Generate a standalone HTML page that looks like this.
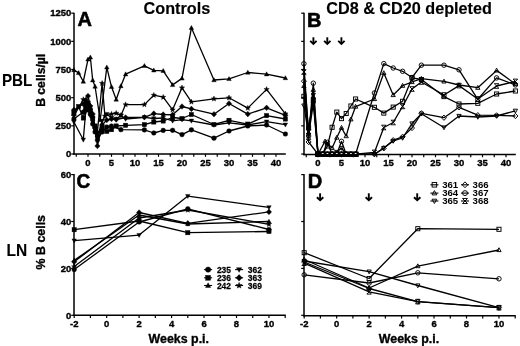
<!DOCTYPE html>
<html><head><meta charset="utf-8"><style>
html,body{margin:0;padding:0;background:#fff;width:520px;height:346px;overflow:hidden}
svg{display:block;filter:grayscale(100%) blur(0.35px)}
</style></head><body>
<svg width="520" height="346" viewBox="0 0 520 346" font-family='"Liberation Sans", sans-serif' font-weight="bold"><style>text{stroke:#000;stroke-width:0.35px;stroke-linejoin:round} .big{stroke-width:0.6px}</style>
<rect width="520" height="346" fill="#fff"/>
<text x="143.6" y="13.6" font-size="16.2" style="stroke-width:0.15px">Controls</text>
<text x="326.3" y="13.6" font-size="16.2" style="stroke-width:0.15px">CD8 &amp; CD20 depleted</text>
<text x="77.5" y="25.8" font-size="20" class="big">A</text>
<text x="306.9" y="26.7" font-size="20" class="big">B</text>
<text transform="translate(76.5,187.6) scale(0.95,1)" font-size="20" class="big">C</text>
<text x="307.8" y="187.6" font-size="20" class="big">D</text>
<text transform="translate(1.95,85.6) scale(0.98,1.065)" font-size="15.5" style="stroke-width:0.1px">PBL</text>
<text transform="translate(6.6,255.5) scale(1.0,1.07)" font-size="15.5" style="stroke-width:0.1px">LN</text>
<text transform="translate(45.4,80.3) rotate(-90)" text-anchor="middle" font-size="12.2">B cells/µl</text>
<text transform="translate(45.2,242.2) rotate(-90)" text-anchor="middle" font-size="12.4">% B cells</text>
<text x="148.6" y="342.5" font-size="12.4">Weeks p.i.</text>
<text x="378.8" y="342.5" font-size="12.4">Weeks p.i.</text>
<line x1="74.0" y1="12.7" x2="74.0" y2="154.75" stroke="#000" stroke-width="1.5"/>
<line x1="73.25" y1="154.0" x2="285.8" y2="154.0" stroke="#000" stroke-width="1.5"/>
<line x1="71.2" y1="154.0" x2="74.0" y2="154.0" stroke="#000" stroke-width="1.2"/>
<line x1="71.2" y1="125.84" x2="74.0" y2="125.84" stroke="#000" stroke-width="1.2"/>
<line x1="71.2" y1="97.68" x2="74.0" y2="97.68" stroke="#000" stroke-width="1.2"/>
<line x1="71.2" y1="69.52" x2="74.0" y2="69.52" stroke="#000" stroke-width="1.2"/>
<line x1="71.2" y1="41.36" x2="74.0" y2="41.36" stroke="#000" stroke-width="1.2"/>
<line x1="71.2" y1="13.199999999999989" x2="74.0" y2="13.199999999999989" stroke="#000" stroke-width="1.2"/>
<line x1="76.25" y1="154.0" x2="76.25" y2="156.8" stroke="#000" stroke-width="1.2"/>
<line x1="88.0" y1="154.0" x2="88.0" y2="156.8" stroke="#000" stroke-width="1.2"/>
<line x1="99.75" y1="154.0" x2="99.75" y2="156.8" stroke="#000" stroke-width="1.2"/>
<line x1="111.5" y1="154.0" x2="111.5" y2="156.8" stroke="#000" stroke-width="1.2"/>
<line x1="123.25" y1="154.0" x2="123.25" y2="156.8" stroke="#000" stroke-width="1.2"/>
<line x1="135.0" y1="154.0" x2="135.0" y2="156.8" stroke="#000" stroke-width="1.2"/>
<line x1="146.75" y1="154.0" x2="146.75" y2="156.8" stroke="#000" stroke-width="1.2"/>
<line x1="158.5" y1="154.0" x2="158.5" y2="156.8" stroke="#000" stroke-width="1.2"/>
<line x1="170.25" y1="154.0" x2="170.25" y2="156.8" stroke="#000" stroke-width="1.2"/>
<line x1="182.0" y1="154.0" x2="182.0" y2="156.8" stroke="#000" stroke-width="1.2"/>
<line x1="193.75" y1="154.0" x2="193.75" y2="156.8" stroke="#000" stroke-width="1.2"/>
<line x1="205.5" y1="154.0" x2="205.5" y2="156.8" stroke="#000" stroke-width="1.2"/>
<line x1="217.25" y1="154.0" x2="217.25" y2="156.8" stroke="#000" stroke-width="1.2"/>
<line x1="229.0" y1="154.0" x2="229.0" y2="156.8" stroke="#000" stroke-width="1.2"/>
<line x1="240.75" y1="154.0" x2="240.75" y2="156.8" stroke="#000" stroke-width="1.2"/>
<line x1="252.5" y1="154.0" x2="252.5" y2="156.8" stroke="#000" stroke-width="1.2"/>
<line x1="264.25" y1="154.0" x2="264.25" y2="156.8" stroke="#000" stroke-width="1.2"/>
<line x1="276.0" y1="154.0" x2="276.0" y2="156.8" stroke="#000" stroke-width="1.2"/>
<text transform="translate(71.30,157.25) scale(1,1.05)" text-anchor="end" font-size="9.5">0</text>
<text transform="translate(71.30,129.09) scale(1,1.05)" text-anchor="end" font-size="9.5">250</text>
<text transform="translate(71.30,100.93) scale(1,1.05)" text-anchor="end" font-size="9.5">500</text>
<text transform="translate(71.30,72.77) scale(1,1.05)" text-anchor="end" font-size="9.5">750</text>
<text transform="translate(71.30,44.61) scale(1,1.05)" text-anchor="end" font-size="9.5">1000</text>
<text transform="translate(71.30,16.45) scale(1,1.05)" text-anchor="end" font-size="9.5">1250</text>
<text transform="translate(88.00,165.60) scale(1,1.05)" text-anchor="middle" font-size="9.5">0</text>
<text transform="translate(111.50,165.60) scale(1,1.05)" text-anchor="middle" font-size="9.5">5</text>
<text transform="translate(135.00,165.60) scale(1,1.05)" text-anchor="middle" font-size="9.5">10</text>
<text transform="translate(158.50,165.60) scale(1,1.05)" text-anchor="middle" font-size="9.5">15</text>
<text transform="translate(182.00,165.60) scale(1,1.05)" text-anchor="middle" font-size="9.5">20</text>
<text transform="translate(205.50,165.60) scale(1,1.05)" text-anchor="middle" font-size="9.5">25</text>
<text transform="translate(229.00,165.60) scale(1,1.05)" text-anchor="middle" font-size="9.5">30</text>
<text transform="translate(252.50,165.60) scale(1,1.05)" text-anchor="middle" font-size="9.5">35</text>
<text transform="translate(276.00,165.60) scale(1,1.05)" text-anchor="middle" font-size="9.5">40</text>
<line x1="304.0" y1="12.7" x2="304.0" y2="155.2" stroke="#000" stroke-width="1.5"/>
<line x1="303.25" y1="154.45" x2="515.8" y2="154.45" stroke="#000" stroke-width="1.5"/>
<line x1="301.2" y1="154.0" x2="304.0" y2="154.0" stroke="#000" stroke-width="1.2"/>
<line x1="301.2" y1="125.84" x2="304.0" y2="125.84" stroke="#000" stroke-width="1.2"/>
<line x1="301.2" y1="97.68" x2="304.0" y2="97.68" stroke="#000" stroke-width="1.2"/>
<line x1="301.2" y1="69.52" x2="304.0" y2="69.52" stroke="#000" stroke-width="1.2"/>
<line x1="301.2" y1="41.36" x2="304.0" y2="41.36" stroke="#000" stroke-width="1.2"/>
<line x1="301.2" y1="13.199999999999989" x2="304.0" y2="13.199999999999989" stroke="#000" stroke-width="1.2"/>
<line x1="306.25" y1="154.45" x2="306.25" y2="157.25" stroke="#000" stroke-width="1.2"/>
<line x1="318.0" y1="154.45" x2="318.0" y2="157.25" stroke="#000" stroke-width="1.2"/>
<line x1="329.75" y1="154.45" x2="329.75" y2="157.25" stroke="#000" stroke-width="1.2"/>
<line x1="341.5" y1="154.45" x2="341.5" y2="157.25" stroke="#000" stroke-width="1.2"/>
<line x1="353.25" y1="154.45" x2="353.25" y2="157.25" stroke="#000" stroke-width="1.2"/>
<line x1="365.0" y1="154.45" x2="365.0" y2="157.25" stroke="#000" stroke-width="1.2"/>
<line x1="376.75" y1="154.45" x2="376.75" y2="157.25" stroke="#000" stroke-width="1.2"/>
<line x1="388.5" y1="154.45" x2="388.5" y2="157.25" stroke="#000" stroke-width="1.2"/>
<line x1="400.25" y1="154.45" x2="400.25" y2="157.25" stroke="#000" stroke-width="1.2"/>
<line x1="412.0" y1="154.45" x2="412.0" y2="157.25" stroke="#000" stroke-width="1.2"/>
<line x1="423.75" y1="154.45" x2="423.75" y2="157.25" stroke="#000" stroke-width="1.2"/>
<line x1="435.5" y1="154.45" x2="435.5" y2="157.25" stroke="#000" stroke-width="1.2"/>
<line x1="447.25" y1="154.45" x2="447.25" y2="157.25" stroke="#000" stroke-width="1.2"/>
<line x1="459.0" y1="154.45" x2="459.0" y2="157.25" stroke="#000" stroke-width="1.2"/>
<line x1="470.75" y1="154.45" x2="470.75" y2="157.25" stroke="#000" stroke-width="1.2"/>
<line x1="482.5" y1="154.45" x2="482.5" y2="157.25" stroke="#000" stroke-width="1.2"/>
<line x1="494.25" y1="154.45" x2="494.25" y2="157.25" stroke="#000" stroke-width="1.2"/>
<line x1="506.0" y1="154.45" x2="506.0" y2="157.25" stroke="#000" stroke-width="1.2"/>
<text transform="translate(318.00,165.82) scale(1,1.05)" text-anchor="middle" font-size="9.5">0</text>
<text transform="translate(341.50,165.82) scale(1,1.05)" text-anchor="middle" font-size="9.5">5</text>
<text transform="translate(365.00,165.82) scale(1,1.05)" text-anchor="middle" font-size="9.5">10</text>
<text transform="translate(388.50,165.82) scale(1,1.05)" text-anchor="middle" font-size="9.5">15</text>
<text transform="translate(412.00,165.82) scale(1,1.05)" text-anchor="middle" font-size="9.5">20</text>
<text transform="translate(435.50,165.82) scale(1,1.05)" text-anchor="middle" font-size="9.5">25</text>
<text transform="translate(459.00,165.82) scale(1,1.05)" text-anchor="middle" font-size="9.5">30</text>
<text transform="translate(482.50,165.82) scale(1,1.05)" text-anchor="middle" font-size="9.5">35</text>
<text transform="translate(506.00,165.82) scale(1,1.05)" text-anchor="middle" font-size="9.5">40</text>
<line x1="74.0" y1="174.1" x2="74.0" y2="316.05" stroke="#000" stroke-width="1.5"/>
<line x1="73.25" y1="315.3" x2="285.8" y2="315.3" stroke="#000" stroke-width="1.5"/>
<line x1="71.2" y1="315.3" x2="74.0" y2="315.3" stroke="#000" stroke-width="1.2"/>
<line x1="71.2" y1="268.4" x2="74.0" y2="268.4" stroke="#000" stroke-width="1.2"/>
<line x1="71.2" y1="221.5" x2="74.0" y2="221.5" stroke="#000" stroke-width="1.2"/>
<line x1="71.2" y1="174.6" x2="74.0" y2="174.6" stroke="#000" stroke-width="1.2"/>
<line x1="74.2" y1="315.3" x2="74.2" y2="318.1" stroke="#000" stroke-width="1.2"/>
<line x1="90.43" y1="315.3" x2="90.43" y2="318.1" stroke="#000" stroke-width="1.2"/>
<line x1="106.66" y1="315.3" x2="106.66" y2="318.1" stroke="#000" stroke-width="1.2"/>
<line x1="122.89" y1="315.3" x2="122.89" y2="318.1" stroke="#000" stroke-width="1.2"/>
<line x1="139.12" y1="315.3" x2="139.12" y2="318.1" stroke="#000" stroke-width="1.2"/>
<line x1="155.35000000000002" y1="315.3" x2="155.35000000000002" y2="318.1" stroke="#000" stroke-width="1.2"/>
<line x1="171.57999999999998" y1="315.3" x2="171.57999999999998" y2="318.1" stroke="#000" stroke-width="1.2"/>
<line x1="187.81" y1="315.3" x2="187.81" y2="318.1" stroke="#000" stroke-width="1.2"/>
<line x1="204.04000000000002" y1="315.3" x2="204.04000000000002" y2="318.1" stroke="#000" stroke-width="1.2"/>
<line x1="220.26999999999998" y1="315.3" x2="220.26999999999998" y2="318.1" stroke="#000" stroke-width="1.2"/>
<line x1="236.5" y1="315.3" x2="236.5" y2="318.1" stroke="#000" stroke-width="1.2"/>
<line x1="252.73000000000002" y1="315.3" x2="252.73000000000002" y2="318.1" stroke="#000" stroke-width="1.2"/>
<line x1="268.96" y1="315.3" x2="268.96" y2="318.1" stroke="#000" stroke-width="1.2"/>
<line x1="285.19" y1="315.3" x2="285.19" y2="318.1" stroke="#000" stroke-width="1.2"/>
<text transform="translate(71.30,318.55) scale(1,1.05)" text-anchor="end" font-size="9.5">0</text>
<text transform="translate(71.30,271.65) scale(1,1.05)" text-anchor="end" font-size="9.5">20</text>
<text transform="translate(71.30,224.75) scale(1,1.05)" text-anchor="end" font-size="9.5">40</text>
<text transform="translate(71.30,177.85) scale(1,1.05)" text-anchor="end" font-size="9.5">60</text>
<text transform="translate(74.20,326.80) scale(1,1.05)" text-anchor="middle" font-size="9.5">-2</text>
<text transform="translate(106.66,326.80) scale(1,1.05)" text-anchor="middle" font-size="9.5">0</text>
<text transform="translate(139.12,326.80) scale(1,1.05)" text-anchor="middle" font-size="9.5">2</text>
<text transform="translate(171.58,326.80) scale(1,1.05)" text-anchor="middle" font-size="9.5">4</text>
<text transform="translate(204.04,326.80) scale(1,1.05)" text-anchor="middle" font-size="9.5">6</text>
<text transform="translate(236.50,326.80) scale(1,1.05)" text-anchor="middle" font-size="9.5">8</text>
<text transform="translate(268.96,326.80) scale(1,1.05)" text-anchor="middle" font-size="9.5">10</text>
<line x1="304.0" y1="174.1" x2="304.0" y2="316.45" stroke="#000" stroke-width="1.5"/>
<line x1="303.25" y1="315.7" x2="515.8" y2="315.7" stroke="#000" stroke-width="1.5"/>
<line x1="301.2" y1="315.3" x2="304.0" y2="315.3" stroke="#000" stroke-width="1.2"/>
<line x1="301.2" y1="268.4" x2="304.0" y2="268.4" stroke="#000" stroke-width="1.2"/>
<line x1="301.2" y1="221.5" x2="304.0" y2="221.5" stroke="#000" stroke-width="1.2"/>
<line x1="301.2" y1="174.6" x2="304.0" y2="174.6" stroke="#000" stroke-width="1.2"/>
<line x1="304.2" y1="315.7" x2="304.2" y2="318.5" stroke="#000" stroke-width="1.2"/>
<line x1="320.43" y1="315.7" x2="320.43" y2="318.5" stroke="#000" stroke-width="1.2"/>
<line x1="336.65999999999997" y1="315.7" x2="336.65999999999997" y2="318.5" stroke="#000" stroke-width="1.2"/>
<line x1="352.89" y1="315.7" x2="352.89" y2="318.5" stroke="#000" stroke-width="1.2"/>
<line x1="369.12" y1="315.7" x2="369.12" y2="318.5" stroke="#000" stroke-width="1.2"/>
<line x1="385.35" y1="315.7" x2="385.35" y2="318.5" stroke="#000" stroke-width="1.2"/>
<line x1="401.58" y1="315.7" x2="401.58" y2="318.5" stroke="#000" stroke-width="1.2"/>
<line x1="417.81" y1="315.7" x2="417.81" y2="318.5" stroke="#000" stroke-width="1.2"/>
<line x1="434.03999999999996" y1="315.7" x2="434.03999999999996" y2="318.5" stroke="#000" stroke-width="1.2"/>
<line x1="450.27" y1="315.7" x2="450.27" y2="318.5" stroke="#000" stroke-width="1.2"/>
<line x1="466.5" y1="315.7" x2="466.5" y2="318.5" stroke="#000" stroke-width="1.2"/>
<line x1="482.73" y1="315.7" x2="482.73" y2="318.5" stroke="#000" stroke-width="1.2"/>
<line x1="498.96" y1="315.7" x2="498.96" y2="318.5" stroke="#000" stroke-width="1.2"/>
<line x1="515.19" y1="315.7" x2="515.19" y2="318.5" stroke="#000" stroke-width="1.2"/>
<text transform="translate(304.20,327.00) scale(1,1.05)" text-anchor="middle" font-size="9.5">-2</text>
<text transform="translate(336.66,327.00) scale(1,1.05)" text-anchor="middle" font-size="9.5">0</text>
<text transform="translate(369.12,327.00) scale(1,1.05)" text-anchor="middle" font-size="9.5">2</text>
<text transform="translate(401.58,327.00) scale(1,1.05)" text-anchor="middle" font-size="9.5">4</text>
<text transform="translate(434.04,327.00) scale(1,1.05)" text-anchor="middle" font-size="9.5">6</text>
<text transform="translate(466.50,327.00) scale(1,1.05)" text-anchor="middle" font-size="9.5">8</text>
<text transform="translate(498.96,327.00) scale(1,1.05)" text-anchor="middle" font-size="9.5">10</text>
<polyline points="73.90,119.00 83.30,112.00 85.65,104.00 88.00,110.00 90.35,114.00 92.70,124.00 95.05,132.00 97.40,140.00 102.10,132.00 106.80,127.00 111.50,126.00 120.90,129.70 144.40,129.90 153.80,133.00 163.20,130.40 172.60,130.30 182.00,134.60 191.40,129.80 213.96,138.20 229.00,131.00 247.80,126.00 266.60,125.00 285.40,134.00" fill="none" stroke="#000" stroke-width="1.3" stroke-linejoin="round"/>
<polyline points="73.90,113.00 78.60,106.50 83.30,118.00 85.65,108.00 88.00,104.00 90.35,110.00 92.70,118.00 95.05,126.00 97.40,135.00 102.10,128.00 106.80,131.40 111.50,129.70 116.20,126.00 125.60,125.30 144.40,124.60 153.80,122.00 163.20,121.00 172.60,117.50 182.00,118.50 191.40,114.50 213.96,124.50 229.00,120.30 247.80,124.10 266.60,115.60 285.40,119.00" fill="none" stroke="#000" stroke-width="1.3" stroke-linejoin="round"/>
<polyline points="73.90,122.00 83.30,139.80 85.65,112.00 88.00,106.00 90.35,116.00 92.70,122.00 95.05,130.00 97.40,138.00 102.10,121.00 106.80,114.10 111.50,118.00 116.20,119.00 120.90,115.40 125.60,119.00 144.40,117.30 153.80,118.50 163.20,118.00 172.60,120.80 182.00,119.70 191.40,120.80 213.96,125.00 229.00,122.80 247.80,125.00 266.60,121.70 285.40,124.70" fill="none" stroke="#000" stroke-width="1.3" stroke-linejoin="round"/>
<polyline points="73.90,110.00 83.30,104.00 85.65,100.00 88.00,96.00 90.35,106.00 92.70,114.00 95.05,128.00 97.40,146.00 102.10,125.00 106.80,120.00 111.50,119.00 116.20,119.50 125.60,117.50 144.40,117.30 153.80,113.60 163.20,114.50 172.60,114.80 182.00,106.50 191.40,108.90 213.96,114.20 229.00,103.50 247.80,114.10 266.60,107.80 285.40,115.30" fill="none" stroke="#000" stroke-width="1.3" stroke-linejoin="round"/>
<polyline points="73.90,116.00 83.30,99.50 85.65,104.00 88.00,102.00 90.35,110.00 92.70,118.00 95.05,128.00 97.40,132.00 102.10,83.30 104.92,116.00 111.50,114.10 116.20,113.20 120.90,115.40 125.60,104.60 144.40,104.60 153.80,95.20 163.20,97.20 172.60,109.80 182.00,87.80 191.40,101.90 213.96,98.80 229.00,97.80 247.80,108.10 266.60,89.40 285.40,113.80" fill="none" stroke="#000" stroke-width="1.3" stroke-linejoin="round"/>
<polyline points="73.90,70.00 78.60,72.90 83.30,81.50 88.00,59.40 90.35,57.30 92.70,80.20 95.05,86.50 100.22,120.00 106.80,67.30 111.50,86.80 116.20,99.50 120.90,86.00 125.60,74.20 144.40,65.80 153.80,70.30 163.20,70.80 172.60,84.90 182.00,78.40 191.40,27.80 213.96,80.00 229.00,78.90 247.80,72.50 266.60,74.20 285.40,78.00" fill="none" stroke="#000" stroke-width="1.3" stroke-linejoin="round"/>
<circle cx="73.90" cy="119.00" r="2.35" fill="#000" stroke="#000" stroke-width="0.4"/>
<circle cx="83.30" cy="112.00" r="2.35" fill="#000" stroke="#000" stroke-width="0.4"/>
<circle cx="85.65" cy="104.00" r="2.35" fill="#000" stroke="#000" stroke-width="0.4"/>
<circle cx="88.00" cy="110.00" r="2.35" fill="#000" stroke="#000" stroke-width="0.4"/>
<circle cx="90.35" cy="114.00" r="2.35" fill="#000" stroke="#000" stroke-width="0.4"/>
<circle cx="92.70" cy="124.00" r="2.35" fill="#000" stroke="#000" stroke-width="0.4"/>
<circle cx="95.05" cy="132.00" r="2.35" fill="#000" stroke="#000" stroke-width="0.4"/>
<circle cx="97.40" cy="140.00" r="2.35" fill="#000" stroke="#000" stroke-width="0.4"/>
<circle cx="102.10" cy="132.00" r="2.35" fill="#000" stroke="#000" stroke-width="0.4"/>
<circle cx="106.80" cy="127.00" r="2.35" fill="#000" stroke="#000" stroke-width="0.4"/>
<circle cx="111.50" cy="126.00" r="2.35" fill="#000" stroke="#000" stroke-width="0.4"/>
<circle cx="120.90" cy="129.70" r="2.35" fill="#000" stroke="#000" stroke-width="0.4"/>
<circle cx="144.40" cy="129.90" r="2.35" fill="#000" stroke="#000" stroke-width="0.4"/>
<circle cx="153.80" cy="133.00" r="2.35" fill="#000" stroke="#000" stroke-width="0.4"/>
<circle cx="163.20" cy="130.40" r="2.35" fill="#000" stroke="#000" stroke-width="0.4"/>
<circle cx="172.60" cy="130.30" r="2.35" fill="#000" stroke="#000" stroke-width="0.4"/>
<circle cx="182.00" cy="134.60" r="2.35" fill="#000" stroke="#000" stroke-width="0.4"/>
<circle cx="191.40" cy="129.80" r="2.35" fill="#000" stroke="#000" stroke-width="0.4"/>
<circle cx="213.96" cy="138.20" r="2.35" fill="#000" stroke="#000" stroke-width="0.4"/>
<circle cx="229.00" cy="131.00" r="2.35" fill="#000" stroke="#000" stroke-width="0.4"/>
<circle cx="247.80" cy="126.00" r="2.35" fill="#000" stroke="#000" stroke-width="0.4"/>
<circle cx="266.60" cy="125.00" r="2.35" fill="#000" stroke="#000" stroke-width="0.4"/>
<circle cx="285.40" cy="134.00" r="2.35" fill="#000" stroke="#000" stroke-width="0.4"/>
<rect x="71.75" y="110.85" width="4.30" height="4.30" fill="#000" stroke="#000" stroke-width="0.4"/>
<rect x="76.45" y="104.35" width="4.30" height="4.30" fill="#000" stroke="#000" stroke-width="0.4"/>
<rect x="81.15" y="115.85" width="4.30" height="4.30" fill="#000" stroke="#000" stroke-width="0.4"/>
<rect x="83.50" y="105.85" width="4.30" height="4.30" fill="#000" stroke="#000" stroke-width="0.4"/>
<rect x="85.85" y="101.85" width="4.30" height="4.30" fill="#000" stroke="#000" stroke-width="0.4"/>
<rect x="88.20" y="107.85" width="4.30" height="4.30" fill="#000" stroke="#000" stroke-width="0.4"/>
<rect x="90.55" y="115.85" width="4.30" height="4.30" fill="#000" stroke="#000" stroke-width="0.4"/>
<rect x="92.90" y="123.85" width="4.30" height="4.30" fill="#000" stroke="#000" stroke-width="0.4"/>
<rect x="95.25" y="132.85" width="4.30" height="4.30" fill="#000" stroke="#000" stroke-width="0.4"/>
<rect x="99.95" y="125.85" width="4.30" height="4.30" fill="#000" stroke="#000" stroke-width="0.4"/>
<rect x="104.65" y="129.25" width="4.30" height="4.30" fill="#000" stroke="#000" stroke-width="0.4"/>
<rect x="109.35" y="127.55" width="4.30" height="4.30" fill="#000" stroke="#000" stroke-width="0.4"/>
<rect x="114.05" y="123.85" width="4.30" height="4.30" fill="#000" stroke="#000" stroke-width="0.4"/>
<rect x="123.45" y="123.15" width="4.30" height="4.30" fill="#000" stroke="#000" stroke-width="0.4"/>
<rect x="142.25" y="122.45" width="4.30" height="4.30" fill="#000" stroke="#000" stroke-width="0.4"/>
<rect x="151.65" y="119.85" width="4.30" height="4.30" fill="#000" stroke="#000" stroke-width="0.4"/>
<rect x="161.05" y="118.85" width="4.30" height="4.30" fill="#000" stroke="#000" stroke-width="0.4"/>
<rect x="170.45" y="115.35" width="4.30" height="4.30" fill="#000" stroke="#000" stroke-width="0.4"/>
<rect x="179.85" y="116.35" width="4.30" height="4.30" fill="#000" stroke="#000" stroke-width="0.4"/>
<rect x="189.25" y="112.35" width="4.30" height="4.30" fill="#000" stroke="#000" stroke-width="0.4"/>
<rect x="211.81" y="122.35" width="4.30" height="4.30" fill="#000" stroke="#000" stroke-width="0.4"/>
<rect x="226.85" y="118.15" width="4.30" height="4.30" fill="#000" stroke="#000" stroke-width="0.4"/>
<rect x="245.65" y="121.95" width="4.30" height="4.30" fill="#000" stroke="#000" stroke-width="0.4"/>
<rect x="264.45" y="113.45" width="4.30" height="4.30" fill="#000" stroke="#000" stroke-width="0.4"/>
<rect x="283.25" y="116.85" width="4.30" height="4.30" fill="#000" stroke="#000" stroke-width="0.4"/>
<polygon points="73.90,124.36 76.15,120.31 71.65,120.31" fill="#000" stroke="#000" stroke-width="0.4"/>
<polygon points="83.30,142.16 85.55,138.11 81.05,138.11" fill="#000" stroke="#000" stroke-width="0.4"/>
<polygon points="85.65,114.36 87.90,110.31 83.40,110.31" fill="#000" stroke="#000" stroke-width="0.4"/>
<polygon points="88.00,108.36 90.25,104.31 85.75,104.31" fill="#000" stroke="#000" stroke-width="0.4"/>
<polygon points="90.35,118.36 92.60,114.31 88.10,114.31" fill="#000" stroke="#000" stroke-width="0.4"/>
<polygon points="92.70,124.36 94.95,120.31 90.45,120.31" fill="#000" stroke="#000" stroke-width="0.4"/>
<polygon points="95.05,132.36 97.30,128.31 92.80,128.31" fill="#000" stroke="#000" stroke-width="0.4"/>
<polygon points="97.40,140.36 99.65,136.31 95.15,136.31" fill="#000" stroke="#000" stroke-width="0.4"/>
<polygon points="102.10,123.36 104.35,119.31 99.85,119.31" fill="#000" stroke="#000" stroke-width="0.4"/>
<polygon points="106.80,116.46 109.05,112.41 104.55,112.41" fill="#000" stroke="#000" stroke-width="0.4"/>
<polygon points="111.50,120.36 113.75,116.31 109.25,116.31" fill="#000" stroke="#000" stroke-width="0.4"/>
<polygon points="116.20,121.36 118.45,117.31 113.95,117.31" fill="#000" stroke="#000" stroke-width="0.4"/>
<polygon points="120.90,117.76 123.15,113.71 118.65,113.71" fill="#000" stroke="#000" stroke-width="0.4"/>
<polygon points="125.60,121.36 127.85,117.31 123.35,117.31" fill="#000" stroke="#000" stroke-width="0.4"/>
<polygon points="144.40,119.66 146.65,115.61 142.15,115.61" fill="#000" stroke="#000" stroke-width="0.4"/>
<polygon points="153.80,120.86 156.05,116.81 151.55,116.81" fill="#000" stroke="#000" stroke-width="0.4"/>
<polygon points="163.20,120.36 165.45,116.31 160.95,116.31" fill="#000" stroke="#000" stroke-width="0.4"/>
<polygon points="172.60,123.16 174.85,119.11 170.35,119.11" fill="#000" stroke="#000" stroke-width="0.4"/>
<polygon points="182.00,122.06 184.25,118.01 179.75,118.01" fill="#000" stroke="#000" stroke-width="0.4"/>
<polygon points="191.40,123.16 193.65,119.11 189.15,119.11" fill="#000" stroke="#000" stroke-width="0.4"/>
<polygon points="213.96,127.36 216.21,123.31 211.71,123.31" fill="#000" stroke="#000" stroke-width="0.4"/>
<polygon points="229.00,125.16 231.25,121.11 226.75,121.11" fill="#000" stroke="#000" stroke-width="0.4"/>
<polygon points="247.80,127.36 250.05,123.31 245.55,123.31" fill="#000" stroke="#000" stroke-width="0.4"/>
<polygon points="266.60,124.06 268.85,120.01 264.35,120.01" fill="#000" stroke="#000" stroke-width="0.4"/>
<polygon points="285.40,127.06 287.65,123.01 283.15,123.01" fill="#000" stroke="#000" stroke-width="0.4"/>
<polygon points="73.90,107.20 76.56,110.00 73.90,112.80 71.24,110.00" fill="#000" stroke="#000" stroke-width="0.4"/>
<polygon points="83.30,101.20 85.96,104.00 83.30,106.80 80.64,104.00" fill="#000" stroke="#000" stroke-width="0.4"/>
<polygon points="85.65,97.20 88.31,100.00 85.65,102.80 82.99,100.00" fill="#000" stroke="#000" stroke-width="0.4"/>
<polygon points="88.00,93.20 90.66,96.00 88.00,98.80 85.34,96.00" fill="#000" stroke="#000" stroke-width="0.4"/>
<polygon points="90.35,103.20 93.01,106.00 90.35,108.80 87.69,106.00" fill="#000" stroke="#000" stroke-width="0.4"/>
<polygon points="92.70,111.20 95.36,114.00 92.70,116.80 90.04,114.00" fill="#000" stroke="#000" stroke-width="0.4"/>
<polygon points="95.05,125.20 97.71,128.00 95.05,130.80 92.39,128.00" fill="#000" stroke="#000" stroke-width="0.4"/>
<polygon points="97.40,143.20 100.06,146.00 97.40,148.80 94.74,146.00" fill="#000" stroke="#000" stroke-width="0.4"/>
<polygon points="102.10,122.20 104.76,125.00 102.10,127.80 99.44,125.00" fill="#000" stroke="#000" stroke-width="0.4"/>
<polygon points="106.80,117.20 109.46,120.00 106.80,122.80 104.14,120.00" fill="#000" stroke="#000" stroke-width="0.4"/>
<polygon points="111.50,116.20 114.16,119.00 111.50,121.80 108.84,119.00" fill="#000" stroke="#000" stroke-width="0.4"/>
<polygon points="116.20,116.70 118.86,119.50 116.20,122.30 113.54,119.50" fill="#000" stroke="#000" stroke-width="0.4"/>
<polygon points="125.60,114.70 128.26,117.50 125.60,120.30 122.94,117.50" fill="#000" stroke="#000" stroke-width="0.4"/>
<polygon points="144.40,114.50 147.06,117.30 144.40,120.10 141.74,117.30" fill="#000" stroke="#000" stroke-width="0.4"/>
<polygon points="153.80,110.80 156.46,113.60 153.80,116.40 151.14,113.60" fill="#000" stroke="#000" stroke-width="0.4"/>
<polygon points="163.20,111.70 165.86,114.50 163.20,117.30 160.54,114.50" fill="#000" stroke="#000" stroke-width="0.4"/>
<polygon points="172.60,112.00 175.26,114.80 172.60,117.60 169.94,114.80" fill="#000" stroke="#000" stroke-width="0.4"/>
<polygon points="182.00,103.70 184.66,106.50 182.00,109.30 179.34,106.50" fill="#000" stroke="#000" stroke-width="0.4"/>
<polygon points="191.40,106.10 194.06,108.90 191.40,111.70 188.74,108.90" fill="#000" stroke="#000" stroke-width="0.4"/>
<polygon points="213.96,111.40 216.62,114.20 213.96,117.00 211.30,114.20" fill="#000" stroke="#000" stroke-width="0.4"/>
<polygon points="229.00,100.70 231.66,103.50 229.00,106.30 226.34,103.50" fill="#000" stroke="#000" stroke-width="0.4"/>
<polygon points="247.80,111.30 250.46,114.10 247.80,116.90 245.14,114.10" fill="#000" stroke="#000" stroke-width="0.4"/>
<polygon points="266.60,105.00 269.26,107.80 266.60,110.60 263.94,107.80" fill="#000" stroke="#000" stroke-width="0.4"/>
<polygon points="285.40,112.50 288.06,115.30 285.40,118.10 282.74,115.30" fill="#000" stroke="#000" stroke-width="0.4"/>
<polygon points="73.90,113.20 74.61,115.03 76.56,115.13 75.04,116.37 75.55,118.27 73.90,117.20 72.25,118.27 72.76,116.37 71.24,115.13 73.19,115.03" fill="#000" stroke="#000" stroke-width="0.4"/>
<polygon points="83.30,96.70 84.01,98.53 85.96,98.63 84.44,99.87 84.95,101.77 83.30,100.70 81.65,101.77 82.16,99.87 80.64,98.63 82.59,98.53" fill="#000" stroke="#000" stroke-width="0.4"/>
<polygon points="85.65,101.20 86.36,103.03 88.31,103.13 86.79,104.37 87.30,106.27 85.65,105.20 84.00,106.27 84.51,104.37 82.99,103.13 84.94,103.03" fill="#000" stroke="#000" stroke-width="0.4"/>
<polygon points="88.00,99.20 88.71,101.03 90.66,101.13 89.14,102.37 89.65,104.27 88.00,103.20 86.35,104.27 86.86,102.37 85.34,101.13 87.29,101.03" fill="#000" stroke="#000" stroke-width="0.4"/>
<polygon points="90.35,107.20 91.06,109.03 93.01,109.13 91.49,110.37 92.00,112.27 90.35,111.20 88.70,112.27 89.21,110.37 87.69,109.13 89.64,109.03" fill="#000" stroke="#000" stroke-width="0.4"/>
<polygon points="92.70,115.20 93.41,117.03 95.36,117.13 93.84,118.37 94.35,120.27 92.70,119.20 91.05,120.27 91.56,118.37 90.04,117.13 91.99,117.03" fill="#000" stroke="#000" stroke-width="0.4"/>
<polygon points="95.05,125.20 95.76,127.03 97.71,127.13 96.19,128.37 96.70,130.27 95.05,129.20 93.40,130.27 93.91,128.37 92.39,127.13 94.34,127.03" fill="#000" stroke="#000" stroke-width="0.4"/>
<polygon points="97.40,129.20 98.11,131.03 100.06,131.13 98.54,132.37 99.05,134.27 97.40,133.20 95.75,134.27 96.26,132.37 94.74,131.13 96.69,131.03" fill="#000" stroke="#000" stroke-width="0.4"/>
<polygon points="102.10,80.50 102.81,82.33 104.76,82.43 103.24,83.67 103.75,85.57 102.10,84.50 100.45,85.57 100.96,83.67 99.44,82.43 101.39,82.33" fill="#000" stroke="#000" stroke-width="0.4"/>
<polygon points="104.92,113.20 105.63,115.03 107.58,115.13 106.06,116.37 106.57,118.27 104.92,117.20 103.27,118.27 103.78,116.37 102.26,115.13 104.21,115.03" fill="#000" stroke="#000" stroke-width="0.4"/>
<polygon points="111.50,111.30 112.21,113.13 114.16,113.23 112.64,114.47 113.15,116.37 111.50,115.30 109.85,116.37 110.36,114.47 108.84,113.23 110.79,113.13" fill="#000" stroke="#000" stroke-width="0.4"/>
<polygon points="116.20,110.40 116.91,112.23 118.86,112.33 117.34,113.57 117.85,115.47 116.20,114.40 114.55,115.47 115.06,113.57 113.54,112.33 115.49,112.23" fill="#000" stroke="#000" stroke-width="0.4"/>
<polygon points="120.90,112.60 121.61,114.43 123.56,114.53 122.04,115.77 122.55,117.67 120.90,116.60 119.25,117.67 119.76,115.77 118.24,114.53 120.19,114.43" fill="#000" stroke="#000" stroke-width="0.4"/>
<polygon points="125.60,101.80 126.31,103.63 128.26,103.73 126.74,104.97 127.25,106.87 125.60,105.80 123.95,106.87 124.46,104.97 122.94,103.73 124.89,103.63" fill="#000" stroke="#000" stroke-width="0.4"/>
<polygon points="144.40,101.80 145.11,103.63 147.06,103.73 145.54,104.97 146.05,106.87 144.40,105.80 142.75,106.87 143.26,104.97 141.74,103.73 143.69,103.63" fill="#000" stroke="#000" stroke-width="0.4"/>
<polygon points="153.80,92.40 154.51,94.23 156.46,94.33 154.94,95.57 155.45,97.47 153.80,96.40 152.15,97.47 152.66,95.57 151.14,94.33 153.09,94.23" fill="#000" stroke="#000" stroke-width="0.4"/>
<polygon points="163.20,94.40 163.91,96.23 165.86,96.33 164.34,97.57 164.85,99.47 163.20,98.40 161.55,99.47 162.06,97.57 160.54,96.33 162.49,96.23" fill="#000" stroke="#000" stroke-width="0.4"/>
<polygon points="172.60,107.00 173.31,108.83 175.26,108.93 173.74,110.17 174.25,112.07 172.60,111.00 170.95,112.07 171.46,110.17 169.94,108.93 171.89,108.83" fill="#000" stroke="#000" stroke-width="0.4"/>
<polygon points="182.00,85.00 182.71,86.83 184.66,86.93 183.14,88.17 183.65,90.07 182.00,89.00 180.35,90.07 180.86,88.17 179.34,86.93 181.29,86.83" fill="#000" stroke="#000" stroke-width="0.4"/>
<polygon points="191.40,99.10 192.11,100.93 194.06,101.03 192.54,102.27 193.05,104.17 191.40,103.10 189.75,104.17 190.26,102.27 188.74,101.03 190.69,100.93" fill="#000" stroke="#000" stroke-width="0.4"/>
<polygon points="213.96,96.00 214.67,97.83 216.62,97.93 215.10,99.17 215.61,101.07 213.96,100.00 212.31,101.07 212.82,99.17 211.30,97.93 213.25,97.83" fill="#000" stroke="#000" stroke-width="0.4"/>
<polygon points="229.00,95.00 229.71,96.83 231.66,96.93 230.14,98.17 230.65,100.07 229.00,99.00 227.35,100.07 227.86,98.17 226.34,96.93 228.29,96.83" fill="#000" stroke="#000" stroke-width="0.4"/>
<polygon points="247.80,105.30 248.51,107.13 250.46,107.23 248.94,108.47 249.45,110.37 247.80,109.30 246.15,110.37 246.66,108.47 245.14,107.23 247.09,107.13" fill="#000" stroke="#000" stroke-width="0.4"/>
<polygon points="266.60,86.60 267.31,88.43 269.26,88.53 267.74,89.77 268.25,91.67 266.60,90.60 264.95,91.67 265.46,89.77 263.94,88.53 265.89,88.43" fill="#000" stroke="#000" stroke-width="0.4"/>
<polygon points="285.40,111.00 286.11,112.83 288.06,112.93 286.54,114.17 287.05,116.07 285.40,115.00 283.75,116.07 284.26,114.17 282.74,112.93 284.69,112.83" fill="#000" stroke="#000" stroke-width="0.4"/>
<polygon points="73.90,67.64 76.15,71.69 71.65,71.69" fill="#000" stroke="#000" stroke-width="0.4"/>
<polygon points="78.60,70.54 80.85,74.59 76.35,74.59" fill="#000" stroke="#000" stroke-width="0.4"/>
<polygon points="83.30,79.14 85.55,83.19 81.05,83.19" fill="#000" stroke="#000" stroke-width="0.4"/>
<polygon points="88.00,57.04 90.25,61.09 85.75,61.09" fill="#000" stroke="#000" stroke-width="0.4"/>
<polygon points="90.35,54.94 92.60,58.99 88.10,58.99" fill="#000" stroke="#000" stroke-width="0.4"/>
<polygon points="92.70,77.84 94.95,81.89 90.45,81.89" fill="#000" stroke="#000" stroke-width="0.4"/>
<polygon points="95.05,84.14 97.30,88.19 92.80,88.19" fill="#000" stroke="#000" stroke-width="0.4"/>
<polygon points="100.22,117.64 102.47,121.69 97.97,121.69" fill="#000" stroke="#000" stroke-width="0.4"/>
<polygon points="106.80,64.94 109.05,68.99 104.55,68.99" fill="#000" stroke="#000" stroke-width="0.4"/>
<polygon points="111.50,84.44 113.75,88.49 109.25,88.49" fill="#000" stroke="#000" stroke-width="0.4"/>
<polygon points="116.20,97.14 118.45,101.19 113.95,101.19" fill="#000" stroke="#000" stroke-width="0.4"/>
<polygon points="120.90,83.64 123.15,87.69 118.65,87.69" fill="#000" stroke="#000" stroke-width="0.4"/>
<polygon points="125.60,71.84 127.85,75.89 123.35,75.89" fill="#000" stroke="#000" stroke-width="0.4"/>
<polygon points="144.40,63.44 146.65,67.49 142.15,67.49" fill="#000" stroke="#000" stroke-width="0.4"/>
<polygon points="153.80,67.94 156.05,71.99 151.55,71.99" fill="#000" stroke="#000" stroke-width="0.4"/>
<polygon points="163.20,68.44 165.45,72.49 160.95,72.49" fill="#000" stroke="#000" stroke-width="0.4"/>
<polygon points="172.60,82.54 174.85,86.59 170.35,86.59" fill="#000" stroke="#000" stroke-width="0.4"/>
<polygon points="182.00,76.04 184.25,80.09 179.75,80.09" fill="#000" stroke="#000" stroke-width="0.4"/>
<polygon points="191.40,25.44 193.65,29.49 189.15,29.49" fill="#000" stroke="#000" stroke-width="0.4"/>
<polygon points="213.96,77.64 216.21,81.69 211.71,81.69" fill="#000" stroke="#000" stroke-width="0.4"/>
<polygon points="229.00,76.54 231.25,80.59 226.75,80.59" fill="#000" stroke="#000" stroke-width="0.4"/>
<polygon points="247.80,70.14 250.05,74.19 245.55,74.19" fill="#000" stroke="#000" stroke-width="0.4"/>
<polygon points="266.60,71.84 268.85,75.89 264.35,75.89" fill="#000" stroke="#000" stroke-width="0.4"/>
<polygon points="285.40,75.64 287.65,79.69 283.15,79.69" fill="#000" stroke="#000" stroke-width="0.4"/>
<polyline points="303.90,96.30 308.60,128.00 313.30,100.00 318.00,154.20 322.70,154.20 327.40,146.00 332.10,127.30 336.80,112.10 341.50,118.60 346.20,113.50 350.90,106.00 355.60,99.00 374.40,107.30 383.80,113.10 393.20,107.10 402.60,101.30 412.00,77.90 421.40,79.50 443.96,96.60 459.00,104.00 477.80,103.30 496.60,94.00 515.40,91.00" fill="none" stroke="#000" stroke-width="1.3" stroke-linejoin="round"/>
<polyline points="303.90,86.00 308.60,138.00 313.30,89.80 318.00,154.20 325.05,141.30 332.10,148.00 336.80,137.60 341.50,127.70 346.20,136.10 350.90,119.30 355.60,106.60 374.40,99.00 383.80,73.00 393.20,95.00 402.60,85.70 412.00,82.00 421.40,78.70 443.96,81.40 459.00,85.00 477.80,87.70 496.60,70.40 515.40,84.00" fill="none" stroke="#000" stroke-width="1.3" stroke-linejoin="round"/>
<polyline points="303.90,105.60 308.60,134.80 313.30,104.00 318.00,154.20 322.70,154.20 327.40,154.20 332.10,154.20 336.80,152.00 341.50,148.00 346.20,154.20 350.90,154.20 355.60,154.20 374.40,154.20 383.80,148.00 393.20,141.00 402.60,138.00 412.00,123.50 421.40,113.70 443.96,127.50 459.00,116.00 477.80,117.00 496.60,116.00 515.40,110.80" fill="none" stroke="#000" stroke-width="1.3" stroke-linejoin="round"/>
<polyline points="303.90,81.20 308.60,142.00 318.00,154.20 322.70,154.20 327.40,154.20 332.10,154.20 336.80,154.20 341.50,154.20 346.20,154.20 350.90,154.20 355.60,154.20 374.40,154.20 383.80,148.30 393.20,140.20 402.60,136.80 412.00,128.00 421.40,113.30 443.96,117.70 459.00,107.30 477.80,115.20 496.60,115.40 515.40,116.00" fill="none" stroke="#000" stroke-width="1.3" stroke-linejoin="round"/>
<polyline points="303.90,63.70 308.60,136.00 313.30,83.20 318.00,154.20 322.70,154.20 327.40,142.30 332.10,154.20 336.80,154.20 341.50,141.30 346.20,154.20 350.90,154.20 355.60,154.20 374.40,93.00 383.80,63.60 393.20,68.00 402.60,71.30 412.00,77.50 421.40,65.20 443.96,65.20 459.00,69.80 477.80,99.30 496.60,77.90 515.40,84.90" fill="none" stroke="#000" stroke-width="1.3" stroke-linejoin="round"/>
<polyline points="303.90,72.00 308.60,131.60 313.30,96.00 318.00,154.20 322.70,154.20 327.40,154.20 332.10,154.20 336.80,154.20 341.50,154.20 346.20,154.20 350.90,154.20 355.60,154.20 374.40,152.40 383.80,127.50 393.20,122.50 402.60,106.40 412.00,89.00 421.40,82.00 443.96,95.00 459.00,85.60 477.80,99.00 496.60,86.00 515.40,81.40" fill="none" stroke="#000" stroke-width="1.3" stroke-linejoin="round"/>
<rect x="301.86" y="94.26" width="4.08" height="4.08" fill="none" stroke="#000" stroke-width="0.95"/>
<rect x="306.56" y="125.96" width="4.08" height="4.08" fill="none" stroke="#000" stroke-width="0.95"/>
<rect x="311.26" y="97.96" width="4.08" height="4.08" fill="none" stroke="#000" stroke-width="0.95"/>
<rect x="315.96" y="152.16" width="4.08" height="4.08" fill="none" stroke="#000" stroke-width="0.95"/>
<rect x="320.66" y="152.16" width="4.08" height="4.08" fill="none" stroke="#000" stroke-width="0.95"/>
<rect x="325.36" y="143.96" width="4.08" height="4.08" fill="none" stroke="#000" stroke-width="0.95"/>
<rect x="330.06" y="125.26" width="4.08" height="4.08" fill="none" stroke="#000" stroke-width="0.95"/>
<rect x="334.76" y="110.06" width="4.08" height="4.08" fill="none" stroke="#000" stroke-width="0.95"/>
<rect x="339.46" y="116.56" width="4.08" height="4.08" fill="none" stroke="#000" stroke-width="0.95"/>
<rect x="344.16" y="111.46" width="4.08" height="4.08" fill="none" stroke="#000" stroke-width="0.95"/>
<rect x="348.86" y="103.96" width="4.08" height="4.08" fill="none" stroke="#000" stroke-width="0.95"/>
<rect x="353.56" y="96.96" width="4.08" height="4.08" fill="none" stroke="#000" stroke-width="0.95"/>
<rect x="372.36" y="105.26" width="4.08" height="4.08" fill="none" stroke="#000" stroke-width="0.95"/>
<rect x="381.76" y="111.06" width="4.08" height="4.08" fill="none" stroke="#000" stroke-width="0.95"/>
<rect x="391.16" y="105.06" width="4.08" height="4.08" fill="none" stroke="#000" stroke-width="0.95"/>
<rect x="400.56" y="99.26" width="4.08" height="4.08" fill="none" stroke="#000" stroke-width="0.95"/>
<rect x="409.96" y="75.86" width="4.08" height="4.08" fill="none" stroke="#000" stroke-width="0.95"/>
<rect x="419.36" y="77.46" width="4.08" height="4.08" fill="none" stroke="#000" stroke-width="0.95"/>
<rect x="441.92" y="94.56" width="4.08" height="4.08" fill="none" stroke="#000" stroke-width="0.95"/>
<rect x="456.96" y="101.96" width="4.08" height="4.08" fill="none" stroke="#000" stroke-width="0.95"/>
<rect x="475.76" y="101.26" width="4.08" height="4.08" fill="none" stroke="#000" stroke-width="0.95"/>
<rect x="494.56" y="91.96" width="4.08" height="4.08" fill="none" stroke="#000" stroke-width="0.95"/>
<rect x="513.36" y="88.96" width="4.08" height="4.08" fill="none" stroke="#000" stroke-width="0.95"/>
<polygon points="303.90,83.76 306.04,87.60 301.76,87.60" fill="none" stroke="#000" stroke-width="0.95"/>
<polygon points="308.60,135.76 310.74,139.60 306.46,139.60" fill="none" stroke="#000" stroke-width="0.95"/>
<polygon points="313.30,87.56 315.44,91.40 311.16,91.40" fill="none" stroke="#000" stroke-width="0.95"/>
<polygon points="318.00,151.96 320.14,155.80 315.86,155.80" fill="none" stroke="#000" stroke-width="0.95"/>
<polygon points="325.05,139.06 327.19,142.90 322.91,142.90" fill="none" stroke="#000" stroke-width="0.95"/>
<polygon points="332.10,145.76 334.24,149.60 329.96,149.60" fill="none" stroke="#000" stroke-width="0.95"/>
<polygon points="336.80,135.36 338.94,139.20 334.66,139.20" fill="none" stroke="#000" stroke-width="0.95"/>
<polygon points="341.50,125.46 343.64,129.30 339.36,129.30" fill="none" stroke="#000" stroke-width="0.95"/>
<polygon points="346.20,133.86 348.34,137.70 344.06,137.70" fill="none" stroke="#000" stroke-width="0.95"/>
<polygon points="350.90,117.06 353.04,120.90 348.76,120.90" fill="none" stroke="#000" stroke-width="0.95"/>
<polygon points="355.60,104.36 357.74,108.20 353.46,108.20" fill="none" stroke="#000" stroke-width="0.95"/>
<polygon points="374.40,96.76 376.54,100.60 372.26,100.60" fill="none" stroke="#000" stroke-width="0.95"/>
<polygon points="383.80,70.76 385.94,74.60 381.66,74.60" fill="none" stroke="#000" stroke-width="0.95"/>
<polygon points="393.20,92.76 395.34,96.60 391.06,96.60" fill="none" stroke="#000" stroke-width="0.95"/>
<polygon points="402.60,83.46 404.74,87.30 400.46,87.30" fill="none" stroke="#000" stroke-width="0.95"/>
<polygon points="412.00,79.76 414.14,83.60 409.86,83.60" fill="none" stroke="#000" stroke-width="0.95"/>
<polygon points="421.40,76.46 423.54,80.30 419.26,80.30" fill="none" stroke="#000" stroke-width="0.95"/>
<polygon points="443.96,79.16 446.10,83.00 441.82,83.00" fill="none" stroke="#000" stroke-width="0.95"/>
<polygon points="459.00,82.76 461.14,86.60 456.86,86.60" fill="none" stroke="#000" stroke-width="0.95"/>
<polygon points="477.80,85.46 479.94,89.30 475.66,89.30" fill="none" stroke="#000" stroke-width="0.95"/>
<polygon points="496.60,68.16 498.74,72.00 494.46,72.00" fill="none" stroke="#000" stroke-width="0.95"/>
<polygon points="515.40,81.76 517.54,85.60 513.26,85.60" fill="none" stroke="#000" stroke-width="0.95"/>
<polygon points="303.90,107.84 306.04,104.00 301.76,104.00" fill="none" stroke="#000" stroke-width="0.95"/>
<polygon points="308.60,137.04 310.74,133.20 306.46,133.20" fill="none" stroke="#000" stroke-width="0.95"/>
<polygon points="313.30,106.24 315.44,102.40 311.16,102.40" fill="none" stroke="#000" stroke-width="0.95"/>
<polygon points="318.00,156.44 320.14,152.60 315.86,152.60" fill="none" stroke="#000" stroke-width="0.95"/>
<polygon points="322.70,156.44 324.84,152.60 320.56,152.60" fill="none" stroke="#000" stroke-width="0.95"/>
<polygon points="327.40,156.44 329.54,152.60 325.26,152.60" fill="none" stroke="#000" stroke-width="0.95"/>
<polygon points="332.10,156.44 334.24,152.60 329.96,152.60" fill="none" stroke="#000" stroke-width="0.95"/>
<polygon points="336.80,154.24 338.94,150.40 334.66,150.40" fill="none" stroke="#000" stroke-width="0.95"/>
<polygon points="341.50,150.24 343.64,146.40 339.36,146.40" fill="none" stroke="#000" stroke-width="0.95"/>
<polygon points="346.20,156.44 348.34,152.60 344.06,152.60" fill="none" stroke="#000" stroke-width="0.95"/>
<polygon points="350.90,156.44 353.04,152.60 348.76,152.60" fill="none" stroke="#000" stroke-width="0.95"/>
<polygon points="355.60,156.44 357.74,152.60 353.46,152.60" fill="none" stroke="#000" stroke-width="0.95"/>
<polygon points="374.40,156.44 376.54,152.60 372.26,152.60" fill="none" stroke="#000" stroke-width="0.95"/>
<polygon points="383.80,150.24 385.94,146.40 381.66,146.40" fill="none" stroke="#000" stroke-width="0.95"/>
<polygon points="393.20,143.24 395.34,139.40 391.06,139.40" fill="none" stroke="#000" stroke-width="0.95"/>
<polygon points="402.60,140.24 404.74,136.40 400.46,136.40" fill="none" stroke="#000" stroke-width="0.95"/>
<polygon points="412.00,125.74 414.14,121.90 409.86,121.90" fill="none" stroke="#000" stroke-width="0.95"/>
<polygon points="421.40,115.94 423.54,112.10 419.26,112.10" fill="none" stroke="#000" stroke-width="0.95"/>
<polygon points="443.96,129.74 446.10,125.90 441.82,125.90" fill="none" stroke="#000" stroke-width="0.95"/>
<polygon points="459.00,118.24 461.14,114.40 456.86,114.40" fill="none" stroke="#000" stroke-width="0.95"/>
<polygon points="477.80,119.24 479.94,115.40 475.66,115.40" fill="none" stroke="#000" stroke-width="0.95"/>
<polygon points="496.60,118.24 498.74,114.40 494.46,114.40" fill="none" stroke="#000" stroke-width="0.95"/>
<polygon points="515.40,113.04 517.54,109.20 513.26,109.20" fill="none" stroke="#000" stroke-width="0.95"/>
<polygon points="303.90,78.54 306.43,81.20 303.90,83.86 301.37,81.20" fill="none" stroke="#000" stroke-width="0.95"/>
<polygon points="308.60,139.34 311.13,142.00 308.60,144.66 306.07,142.00" fill="none" stroke="#000" stroke-width="0.95"/>
<polygon points="318.00,151.54 320.53,154.20 318.00,156.86 315.47,154.20" fill="none" stroke="#000" stroke-width="0.95"/>
<polygon points="322.70,151.54 325.23,154.20 322.70,156.86 320.17,154.20" fill="none" stroke="#000" stroke-width="0.95"/>
<polygon points="327.40,151.54 329.93,154.20 327.40,156.86 324.87,154.20" fill="none" stroke="#000" stroke-width="0.95"/>
<polygon points="332.10,151.54 334.63,154.20 332.10,156.86 329.57,154.20" fill="none" stroke="#000" stroke-width="0.95"/>
<polygon points="336.80,151.54 339.33,154.20 336.80,156.86 334.27,154.20" fill="none" stroke="#000" stroke-width="0.95"/>
<polygon points="341.50,151.54 344.03,154.20 341.50,156.86 338.97,154.20" fill="none" stroke="#000" stroke-width="0.95"/>
<polygon points="346.20,151.54 348.73,154.20 346.20,156.86 343.67,154.20" fill="none" stroke="#000" stroke-width="0.95"/>
<polygon points="350.90,151.54 353.43,154.20 350.90,156.86 348.37,154.20" fill="none" stroke="#000" stroke-width="0.95"/>
<polygon points="355.60,151.54 358.13,154.20 355.60,156.86 353.07,154.20" fill="none" stroke="#000" stroke-width="0.95"/>
<polygon points="374.40,151.54 376.93,154.20 374.40,156.86 371.87,154.20" fill="none" stroke="#000" stroke-width="0.95"/>
<polygon points="383.80,145.64 386.33,148.30 383.80,150.96 381.27,148.30" fill="none" stroke="#000" stroke-width="0.95"/>
<polygon points="393.20,137.54 395.73,140.20 393.20,142.86 390.67,140.20" fill="none" stroke="#000" stroke-width="0.95"/>
<polygon points="402.60,134.14 405.13,136.80 402.60,139.46 400.07,136.80" fill="none" stroke="#000" stroke-width="0.95"/>
<polygon points="412.00,125.34 414.53,128.00 412.00,130.66 409.47,128.00" fill="none" stroke="#000" stroke-width="0.95"/>
<polygon points="421.40,110.64 423.93,113.30 421.40,115.96 418.87,113.30" fill="none" stroke="#000" stroke-width="0.95"/>
<polygon points="443.96,115.04 446.49,117.70 443.96,120.36 441.43,117.70" fill="none" stroke="#000" stroke-width="0.95"/>
<polygon points="459.00,104.64 461.53,107.30 459.00,109.96 456.47,107.30" fill="none" stroke="#000" stroke-width="0.95"/>
<polygon points="477.80,112.54 480.33,115.20 477.80,117.86 475.27,115.20" fill="none" stroke="#000" stroke-width="0.95"/>
<polygon points="496.60,112.74 499.13,115.40 496.60,118.06 494.07,115.40" fill="none" stroke="#000" stroke-width="0.95"/>
<polygon points="515.40,113.34 517.93,116.00 515.40,118.66 512.87,116.00" fill="none" stroke="#000" stroke-width="0.95"/>
<circle cx="303.90" cy="63.70" r="2.23" fill="none" stroke="#000" stroke-width="0.95"/>
<circle cx="308.60" cy="136.00" r="2.23" fill="none" stroke="#000" stroke-width="0.95"/>
<circle cx="313.30" cy="83.20" r="2.23" fill="none" stroke="#000" stroke-width="0.95"/>
<circle cx="318.00" cy="154.20" r="2.23" fill="none" stroke="#000" stroke-width="0.95"/>
<circle cx="322.70" cy="154.20" r="2.23" fill="none" stroke="#000" stroke-width="0.95"/>
<circle cx="327.40" cy="142.30" r="2.23" fill="none" stroke="#000" stroke-width="0.95"/>
<circle cx="332.10" cy="154.20" r="2.23" fill="none" stroke="#000" stroke-width="0.95"/>
<circle cx="336.80" cy="154.20" r="2.23" fill="none" stroke="#000" stroke-width="0.95"/>
<circle cx="341.50" cy="141.30" r="2.23" fill="none" stroke="#000" stroke-width="0.95"/>
<circle cx="346.20" cy="154.20" r="2.23" fill="none" stroke="#000" stroke-width="0.95"/>
<circle cx="350.90" cy="154.20" r="2.23" fill="none" stroke="#000" stroke-width="0.95"/>
<circle cx="355.60" cy="154.20" r="2.23" fill="none" stroke="#000" stroke-width="0.95"/>
<circle cx="374.40" cy="93.00" r="2.23" fill="none" stroke="#000" stroke-width="0.95"/>
<circle cx="383.80" cy="63.60" r="2.23" fill="none" stroke="#000" stroke-width="0.95"/>
<circle cx="393.20" cy="68.00" r="2.23" fill="none" stroke="#000" stroke-width="0.95"/>
<circle cx="402.60" cy="71.30" r="2.23" fill="none" stroke="#000" stroke-width="0.95"/>
<circle cx="412.00" cy="77.50" r="2.23" fill="none" stroke="#000" stroke-width="0.95"/>
<circle cx="421.40" cy="65.20" r="2.23" fill="none" stroke="#000" stroke-width="0.95"/>
<circle cx="443.96" cy="65.20" r="2.23" fill="none" stroke="#000" stroke-width="0.95"/>
<circle cx="459.00" cy="69.80" r="2.23" fill="none" stroke="#000" stroke-width="0.95"/>
<circle cx="477.80" cy="99.30" r="2.23" fill="none" stroke="#000" stroke-width="0.95"/>
<circle cx="496.60" cy="77.90" r="2.23" fill="none" stroke="#000" stroke-width="0.95"/>
<circle cx="515.40" cy="84.90" r="2.23" fill="none" stroke="#000" stroke-width="0.95"/>
<polygon points="301.62,69.72 306.18,69.72 301.62,74.28 306.18,74.28" fill="none" stroke="#000" stroke-width="0.95"/>
<polygon points="306.32,129.32 310.88,129.32 306.32,133.88 310.88,133.88" fill="none" stroke="#000" stroke-width="0.95"/>
<polygon points="311.02,93.72 315.58,93.72 311.02,98.28 315.58,98.28" fill="none" stroke="#000" stroke-width="0.95"/>
<polygon points="315.72,151.92 320.28,151.92 315.72,156.48 320.28,156.48" fill="none" stroke="#000" stroke-width="0.95"/>
<polygon points="320.42,151.92 324.98,151.92 320.42,156.48 324.98,156.48" fill="none" stroke="#000" stroke-width="0.95"/>
<polygon points="325.12,151.92 329.68,151.92 325.12,156.48 329.68,156.48" fill="none" stroke="#000" stroke-width="0.95"/>
<polygon points="329.82,151.92 334.38,151.92 329.82,156.48 334.38,156.48" fill="none" stroke="#000" stroke-width="0.95"/>
<polygon points="334.52,151.92 339.08,151.92 334.52,156.48 339.08,156.48" fill="none" stroke="#000" stroke-width="0.95"/>
<polygon points="339.22,151.92 343.78,151.92 339.22,156.48 343.78,156.48" fill="none" stroke="#000" stroke-width="0.95"/>
<polygon points="343.92,151.92 348.48,151.92 343.92,156.48 348.48,156.48" fill="none" stroke="#000" stroke-width="0.95"/>
<polygon points="348.62,151.92 353.18,151.92 348.62,156.48 353.18,156.48" fill="none" stroke="#000" stroke-width="0.95"/>
<polygon points="353.32,151.92 357.88,151.92 353.32,156.48 357.88,156.48" fill="none" stroke="#000" stroke-width="0.95"/>
<polygon points="372.12,150.12 376.68,150.12 372.12,154.68 376.68,154.68" fill="none" stroke="#000" stroke-width="0.95"/>
<polygon points="381.52,125.22 386.08,125.22 381.52,129.78 386.08,129.78" fill="none" stroke="#000" stroke-width="0.95"/>
<polygon points="390.92,120.22 395.48,120.22 390.92,124.78 395.48,124.78" fill="none" stroke="#000" stroke-width="0.95"/>
<polygon points="400.32,104.12 404.88,104.12 400.32,108.68 404.88,108.68" fill="none" stroke="#000" stroke-width="0.95"/>
<polygon points="409.72,86.72 414.28,86.72 409.72,91.28 414.28,91.28" fill="none" stroke="#000" stroke-width="0.95"/>
<polygon points="419.12,79.72 423.68,79.72 419.12,84.28 423.68,84.28" fill="none" stroke="#000" stroke-width="0.95"/>
<polygon points="441.68,92.72 446.24,92.72 441.68,97.28 446.24,97.28" fill="none" stroke="#000" stroke-width="0.95"/>
<polygon points="456.72,83.32 461.28,83.32 456.72,87.88 461.28,87.88" fill="none" stroke="#000" stroke-width="0.95"/>
<polygon points="475.52,96.72 480.08,96.72 475.52,101.28 480.08,101.28" fill="none" stroke="#000" stroke-width="0.95"/>
<polygon points="494.32,83.72 498.88,83.72 494.32,88.28 498.88,88.28" fill="none" stroke="#000" stroke-width="0.95"/>
<polygon points="513.12,79.12 517.68,79.12 513.12,83.68 517.68,83.68" fill="none" stroke="#000" stroke-width="0.95"/>
<rect x="315.2" y="151.8" width="43.6" height="5.0" fill="#000"/>
<rect x="321.80" y="153.1" width="1.8" height="0.9" fill="#fff"/>
<rect x="326.50" y="153.1" width="1.8" height="0.9" fill="#fff"/>
<rect x="331.20" y="153.1" width="1.8" height="0.9" fill="#fff"/>
<rect x="335.90" y="153.1" width="1.8" height="0.9" fill="#fff"/>
<rect x="340.60" y="153.1" width="1.8" height="0.9" fill="#fff"/>
<rect x="345.30" y="153.1" width="1.8" height="0.9" fill="#fff"/>
<rect x="350.00" y="153.1" width="1.8" height="0.9" fill="#fff"/>
<rect x="354.70" y="153.1" width="1.8" height="0.9" fill="#fff"/>
<polyline points="74.20,269.60 139.12,222.00 187.81,208.80 268.96,229.50" fill="none" stroke="#000" stroke-width="1.3" stroke-linejoin="round"/>
<polyline points="74.20,229.70 139.12,221.00 187.81,232.70 268.96,231.50" fill="none" stroke="#000" stroke-width="1.3" stroke-linejoin="round"/>
<polyline points="74.20,260.40 139.12,215.00 187.81,224.00 268.96,221.50" fill="none" stroke="#000" stroke-width="1.3" stroke-linejoin="round"/>
<polyline points="74.20,240.60 139.12,235.10 187.81,196.10 268.96,207.40" fill="none" stroke="#000" stroke-width="1.3" stroke-linejoin="round"/>
<polyline points="74.20,261.80 139.12,212.50 187.81,223.30 268.96,211.90" fill="none" stroke="#000" stroke-width="1.3" stroke-linejoin="round"/>
<polyline points="74.20,266.60 139.12,218.00 187.81,210.00 268.96,224.30" fill="none" stroke="#000" stroke-width="1.3" stroke-linejoin="round"/>
<circle cx="74.20" cy="269.60" r="2.35" fill="#000" stroke="#000" stroke-width="0.4"/>
<circle cx="139.12" cy="222.00" r="2.35" fill="#000" stroke="#000" stroke-width="0.4"/>
<circle cx="187.81" cy="208.80" r="2.35" fill="#000" stroke="#000" stroke-width="0.4"/>
<circle cx="268.96" cy="229.50" r="2.35" fill="#000" stroke="#000" stroke-width="0.4"/>
<rect x="72.05" y="227.55" width="4.30" height="4.30" fill="#000" stroke="#000" stroke-width="0.4"/>
<rect x="136.97" y="218.85" width="4.30" height="4.30" fill="#000" stroke="#000" stroke-width="0.4"/>
<rect x="185.66" y="230.55" width="4.30" height="4.30" fill="#000" stroke="#000" stroke-width="0.4"/>
<rect x="266.81" y="229.35" width="4.30" height="4.30" fill="#000" stroke="#000" stroke-width="0.4"/>
<polygon points="74.20,258.04 76.45,262.09 71.95,262.09" fill="#000" stroke="#000" stroke-width="0.4"/>
<polygon points="139.12,212.64 141.37,216.69 136.87,216.69" fill="#000" stroke="#000" stroke-width="0.4"/>
<polygon points="187.81,221.64 190.06,225.69 185.56,225.69" fill="#000" stroke="#000" stroke-width="0.4"/>
<polygon points="268.96,219.14 271.21,223.19 266.71,223.19" fill="#000" stroke="#000" stroke-width="0.4"/>
<polygon points="74.20,242.96 76.45,238.91 71.95,238.91" fill="#000" stroke="#000" stroke-width="0.4"/>
<polygon points="139.12,237.46 141.37,233.41 136.87,233.41" fill="#000" stroke="#000" stroke-width="0.4"/>
<polygon points="187.81,198.46 190.06,194.41 185.56,194.41" fill="#000" stroke="#000" stroke-width="0.4"/>
<polygon points="268.96,209.76 271.21,205.71 266.71,205.71" fill="#000" stroke="#000" stroke-width="0.4"/>
<polygon points="74.20,259.00 76.86,261.80 74.20,264.60 71.54,261.80" fill="#000" stroke="#000" stroke-width="0.4"/>
<polygon points="139.12,209.70 141.78,212.50 139.12,215.30 136.46,212.50" fill="#000" stroke="#000" stroke-width="0.4"/>
<polygon points="187.81,220.50 190.47,223.30 187.81,226.10 185.15,223.30" fill="#000" stroke="#000" stroke-width="0.4"/>
<polygon points="268.96,209.10 271.62,211.90 268.96,214.70 266.30,211.90" fill="#000" stroke="#000" stroke-width="0.4"/>
<polygon points="74.20,263.80 74.91,265.63 76.86,265.73 75.34,266.97 75.85,268.87 74.20,267.80 72.55,268.87 73.06,266.97 71.54,265.73 73.49,265.63" fill="#000" stroke="#000" stroke-width="0.4"/>
<polygon points="139.12,215.20 139.83,217.03 141.78,217.13 140.26,218.37 140.77,220.27 139.12,219.20 137.47,220.27 137.98,218.37 136.46,217.13 138.41,217.03" fill="#000" stroke="#000" stroke-width="0.4"/>
<polygon points="187.81,207.20 188.52,209.03 190.47,209.13 188.95,210.37 189.46,212.27 187.81,211.20 186.16,212.27 186.67,210.37 185.15,209.13 187.10,209.03" fill="#000" stroke="#000" stroke-width="0.4"/>
<polygon points="268.96,221.50 269.67,223.33 271.62,223.43 270.10,224.67 270.61,226.57 268.96,225.50 267.31,226.57 267.82,224.67 266.30,223.43 268.25,223.33" fill="#000" stroke="#000" stroke-width="0.4"/>
<polyline points="304.20,252.70 369.12,278.50 417.81,228.70 498.96,229.30" fill="none" stroke="#000" stroke-width="1.3" stroke-linejoin="round"/>
<polyline points="304.20,259.50 369.12,288.00 417.81,266.10 498.96,250.00" fill="none" stroke="#000" stroke-width="1.3" stroke-linejoin="round"/>
<polyline points="304.20,274.80 369.12,283.00 417.81,272.80 498.96,278.80" fill="none" stroke="#000" stroke-width="1.3" stroke-linejoin="round"/>
<polyline points="304.20,261.00 369.12,271.60 417.81,285.50 498.96,307.70" fill="none" stroke="#000" stroke-width="1.3" stroke-linejoin="round"/>
<polyline points="304.20,262.00 369.12,288.50 417.81,301.60 498.96,307.70" fill="none" stroke="#000" stroke-width="1.3" stroke-linejoin="round"/>
<polyline points="304.20,263.20 369.12,291.80 417.81,301.60 498.96,307.70" fill="none" stroke="#000" stroke-width="1.3" stroke-linejoin="round"/>
<rect x="302.16" y="250.66" width="4.08" height="4.08" fill="none" stroke="#000" stroke-width="0.95"/>
<rect x="367.08" y="276.46" width="4.08" height="4.08" fill="none" stroke="#000" stroke-width="0.95"/>
<rect x="415.77" y="226.66" width="4.08" height="4.08" fill="none" stroke="#000" stroke-width="0.95"/>
<rect x="496.92" y="227.26" width="4.08" height="4.08" fill="none" stroke="#000" stroke-width="0.95"/>
<polygon points="304.20,257.26 306.34,261.10 302.06,261.10" fill="none" stroke="#000" stroke-width="0.95"/>
<polygon points="369.12,285.76 371.26,289.60 366.98,289.60" fill="none" stroke="#000" stroke-width="0.95"/>
<polygon points="417.81,263.86 419.95,267.70 415.67,267.70" fill="none" stroke="#000" stroke-width="0.95"/>
<polygon points="498.96,247.76 501.10,251.60 496.82,251.60" fill="none" stroke="#000" stroke-width="0.95"/>
<circle cx="304.20" cy="274.80" r="2.23" fill="none" stroke="#000" stroke-width="0.95"/>
<circle cx="369.12" cy="283.00" r="2.23" fill="none" stroke="#000" stroke-width="0.95"/>
<circle cx="417.81" cy="272.80" r="2.23" fill="none" stroke="#000" stroke-width="0.95"/>
<circle cx="498.96" cy="278.80" r="2.23" fill="none" stroke="#000" stroke-width="0.95"/>
<polygon points="304.20,263.24 306.34,259.40 302.06,259.40" fill="none" stroke="#000" stroke-width="0.95"/>
<polygon points="369.12,273.84 371.26,270.00 366.98,270.00" fill="none" stroke="#000" stroke-width="0.95"/>
<polygon points="417.81,287.74 419.95,283.90 415.67,283.90" fill="none" stroke="#000" stroke-width="0.95"/>
<polygon points="498.96,309.94 501.10,306.10 496.82,306.10" fill="none" stroke="#000" stroke-width="0.95"/>
<polygon points="304.20,259.34 306.73,262.00 304.20,264.66 301.67,262.00" fill="none" stroke="#000" stroke-width="0.95"/>
<polygon points="369.12,285.84 371.65,288.50 369.12,291.16 366.59,288.50" fill="none" stroke="#000" stroke-width="0.95"/>
<polygon points="417.81,298.94 420.34,301.60 417.81,304.26 415.28,301.60" fill="none" stroke="#000" stroke-width="0.95"/>
<polygon points="498.96,305.04 501.49,307.70 498.96,310.36 496.43,307.70" fill="none" stroke="#000" stroke-width="0.95"/>
<polygon points="301.92,260.92 306.48,260.92 301.92,265.48 306.48,265.48" fill="none" stroke="#000" stroke-width="0.95"/>
<polygon points="366.84,289.52 371.40,289.52 366.84,294.08 371.40,294.08" fill="none" stroke="#000" stroke-width="0.95"/>
<polygon points="415.53,299.32 420.09,299.32 415.53,303.88 420.09,303.88" fill="none" stroke="#000" stroke-width="0.95"/>
<polygon points="496.68,305.42 501.24,305.42 496.68,309.98 501.24,309.98" fill="none" stroke="#000" stroke-width="0.95"/>
<line x1="313.4" y1="37.3" x2="313.4" y2="43.5" stroke="#000" stroke-width="1.9"/>
<polyline points="310.2,40.9 313.4,43.9 316.59999999999997,40.9" fill="none" stroke="#000" stroke-width="1.9" stroke-linejoin="miter"/>
<line x1="327.3" y1="37.3" x2="327.3" y2="43.5" stroke="#000" stroke-width="1.9"/>
<polyline points="324.1,40.9 327.3,43.9 330.5,40.9" fill="none" stroke="#000" stroke-width="1.9" stroke-linejoin="miter"/>
<line x1="341.4" y1="37.3" x2="341.4" y2="43.5" stroke="#000" stroke-width="1.9"/>
<polyline points="338.2,40.9 341.4,43.9 344.59999999999997,40.9" fill="none" stroke="#000" stroke-width="1.9" stroke-linejoin="miter"/>
<line x1="320.1" y1="193.3" x2="320.1" y2="199.9" stroke="#000" stroke-width="1.9"/>
<polyline points="316.90000000000003,197.3 320.1,200.3 323.3,197.3" fill="none" stroke="#000" stroke-width="1.9" stroke-linejoin="miter"/>
<line x1="368.8" y1="193.3" x2="368.8" y2="199.9" stroke="#000" stroke-width="1.9"/>
<polyline points="365.6,197.3 368.8,200.3 372.0,197.3" fill="none" stroke="#000" stroke-width="1.9" stroke-linejoin="miter"/>
<line x1="417.2" y1="193.3" x2="417.2" y2="199.9" stroke="#000" stroke-width="1.9"/>
<polyline points="414.0,197.3 417.2,200.3 420.4,197.3" fill="none" stroke="#000" stroke-width="1.9" stroke-linejoin="miter"/>
<line x1="204.1" y1="269.6" x2="212.1" y2="269.6" stroke="#000" stroke-width="1.1"/>
<circle cx="208.10" cy="269.60" r="2.70" fill="#000" stroke="#000" stroke-width="0.4"/>
<text transform="translate(216.9,272.6) scale(0.92,1.02)" font-size="9.2" style="stroke-width:0.25px">235</text>
<line x1="204.1" y1="277.8" x2="212.1" y2="277.8" stroke="#000" stroke-width="1.1"/>
<rect x="205.63" y="275.33" width="4.94" height="4.94" fill="#000" stroke="#000" stroke-width="0.4"/>
<text transform="translate(216.9,280.8) scale(0.92,1.02)" font-size="9.2" style="stroke-width:0.25px">236</text>
<line x1="204.1" y1="285.5" x2="212.1" y2="285.5" stroke="#000" stroke-width="1.1"/>
<polygon points="208.10,282.78 210.69,287.44 205.51,287.44" fill="#000" stroke="#000" stroke-width="0.4"/>
<text transform="translate(216.9,288.5) scale(0.92,1.02)" font-size="9.2" style="stroke-width:0.25px">242</text>
<line x1="235.1" y1="269.6" x2="243.1" y2="269.6" stroke="#000" stroke-width="1.1"/>
<polygon points="239.10,272.32 241.69,267.66 236.51,267.66" fill="#000" stroke="#000" stroke-width="0.4"/>
<text transform="translate(247.8,272.6) scale(0.92,1.02)" font-size="9.2" style="stroke-width:0.25px">362</text>
<line x1="235.1" y1="277.8" x2="243.1" y2="277.8" stroke="#000" stroke-width="1.1"/>
<polygon points="239.10,274.58 242.16,277.80 239.10,281.02 236.04,277.80" fill="#000" stroke="#000" stroke-width="0.4"/>
<text transform="translate(247.8,280.8) scale(0.92,1.02)" font-size="9.2" style="stroke-width:0.25px">363</text>
<line x1="235.1" y1="285.5" x2="243.1" y2="285.5" stroke="#000" stroke-width="1.1"/>
<polygon points="239.10,282.28 239.91,284.38 242.16,284.50 240.41,285.93 240.99,288.11 239.10,286.88 237.21,288.11 237.79,285.93 236.04,284.50 238.29,284.38" fill="#000" stroke="#000" stroke-width="0.4"/>
<text transform="translate(247.8,288.5) scale(0.92,1.02)" font-size="9.2" style="stroke-width:0.25px">369</text>
<line x1="430.4" y1="184.8" x2="438.4" y2="184.8" stroke="#000" stroke-width="1.1"/>
<rect x="432.14" y="182.54" width="4.51" height="4.51" fill="none" stroke="#000" stroke-width="0.95"/>
<text x="442.2" y="188.0" font-size="9.6" style="stroke-width:0">361</text>
<line x1="430.4" y1="193.1" x2="438.4" y2="193.1" stroke="#000" stroke-width="1.1"/>
<polygon points="434.40,190.62 436.76,194.87 432.04,194.87" fill="none" stroke="#000" stroke-width="0.95"/>
<text x="442.2" y="196.29999999999998" font-size="9.6" style="stroke-width:0">364</text>
<line x1="430.4" y1="201.0" x2="438.4" y2="201.0" stroke="#000" stroke-width="1.1"/>
<polygon points="434.40,203.48 436.76,199.23 432.04,199.23" fill="none" stroke="#000" stroke-width="0.95"/>
<text x="442.2" y="204.2" font-size="9.6" style="stroke-width:0">365</text>
<line x1="461.0" y1="184.8" x2="469.0" y2="184.8" stroke="#000" stroke-width="1.1"/>
<polygon points="465.00,181.86 467.79,184.80 465.00,187.74 462.21,184.80" fill="none" stroke="#000" stroke-width="0.95"/>
<text x="472.6" y="188.0" font-size="9.6" style="stroke-width:0">366</text>
<line x1="461.0" y1="193.1" x2="469.0" y2="193.1" stroke="#000" stroke-width="1.1"/>
<circle cx="465.00" cy="193.10" r="2.47" fill="none" stroke="#000" stroke-width="0.95"/>
<text x="472.6" y="196.29999999999998" font-size="9.6" style="stroke-width:0">367</text>
<line x1="461.0" y1="201.0" x2="469.0" y2="201.0" stroke="#000" stroke-width="1.1"/>
<polygon points="462.48,198.48 467.52,198.48 462.48,203.52 467.52,203.52" fill="none" stroke="#000" stroke-width="0.95"/>
<text x="472.6" y="204.2" font-size="9.6" style="stroke-width:0">368</text>
</svg>
</body></html>
